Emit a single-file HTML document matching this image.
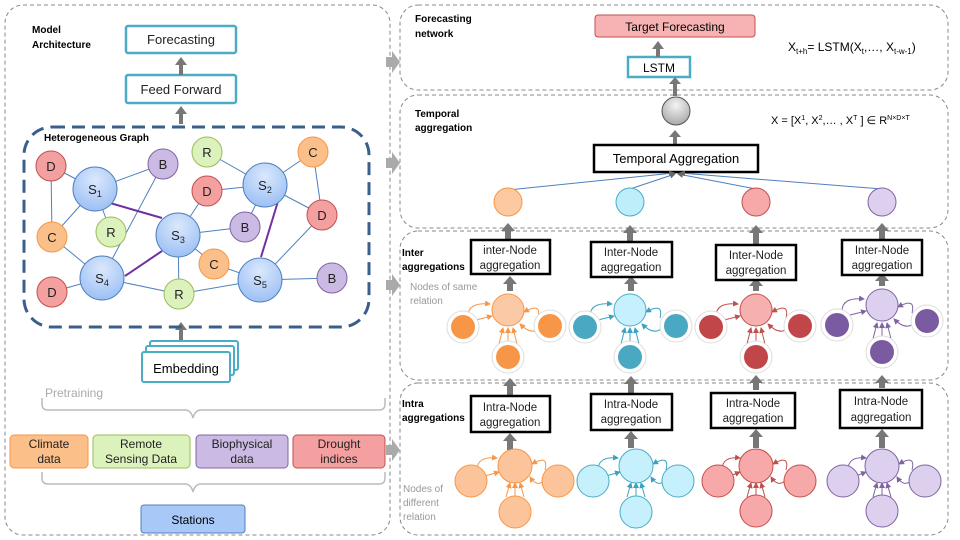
<!DOCTYPE html>
<html><head><meta charset="utf-8"><style>
body{margin:0;background:#fff}
svg{display:block;font-family:"Liberation Sans",sans-serif}
</style></head><body>
<svg width="960" height="540" viewBox="0 0 960 540" xmlns="http://www.w3.org/2000/svg">
<defs>
<marker id="ah" markerWidth="6" markerHeight="6" refX="5" refY="3" orient="auto"><path d="M0,0L6,3L0,6z" fill="#666"/></marker>
<marker id="mo" markerWidth="6" markerHeight="6" refX="5" refY="3" orient="auto"><path d="M0,0L6,3L0,6z" fill="#f79646"/></marker>
<marker id="mb" markerWidth="6" markerHeight="6" refX="5" refY="3" orient="auto"><path d="M0,0L6,3L0,6z" fill="#3ba3c0"/></marker>
<marker id="mr" markerWidth="6" markerHeight="6" refX="5" refY="3" orient="auto"><path d="M0,0L6,3L0,6z" fill="#c0504d"/></marker>
<marker id="mp" markerWidth="6" markerHeight="6" refX="5" refY="3" orient="auto"><path d="M0,0L6,3L0,6z" fill="#8064a2"/></marker>
<radialGradient id="gs" cx="50%" cy="30%" r="70%"><stop offset="0" stop-color="#dbe8fc"/><stop offset="1" stop-color="#9cc0f4"/></radialGradient>
<radialGradient id="gg" cx="50%" cy="30%" r="70%"><stop offset="0" stop-color="#f4f4f4"/><stop offset="1" stop-color="#a8a8a8"/></radialGradient>
<g id="arr"><path d="M-4,15v-12h-3l7,-7l7,7h-3v12z" fill="#777"/></g>
</defs>
<rect x="5" y="5" width="385" height="530" rx="18" fill="none" stroke="#888" stroke-dasharray="4,3"/>
<rect x="400" y="5" width="548" height="85" rx="18" fill="none" stroke="#888" stroke-dasharray="4,3"/>
<rect x="400" y="95" width="548" height="133" rx="18" fill="none" stroke="#888" stroke-dasharray="4,3"/>
<rect x="400" y="231" width="548" height="149" rx="18" fill="none" stroke="#888" stroke-dasharray="4,3"/>
<rect x="400" y="383" width="548" height="152" rx="18" fill="none" stroke="#888" stroke-dasharray="4,3"/>
<g fill="#aaa"><path d="M386,57h6v-6l8,11l-8,11v-6h-6z"/><path d="M386,158h6v-6l8,11l-8,11v-6h-6z"/><path d="M386,280h6v-6l8,11l-8,11v-6h-6z"/><path d="M386,445h6v-6l8,11l-8,11v-6h-6z"/></g>
<g font-weight="bold" font-size="10" fill="#000">
<text x="32" y="33">Model</text><text x="32" y="48">Architecture</text>
<text x="415" y="22">Forecasting</text><text x="415" y="37">network</text>
<text x="415" y="117">Temporal</text><text x="415" y="131">aggregation</text>
<text x="402" y="256">Inter</text><text x="402" y="270">aggregations</text>
<text x="402" y="407">Intra</text><text x="402" y="421">aggregations</text>
</g>
<g font-size="10" fill="#999"><text x="410" y="290">Nodes of same</text><text x="410" y="304">relation</text>
<text x="403" y="492">Nodes of</text><text x="403" y="506">different</text><text x="403" y="520">relation</text></g>
<g fill="#fff" stroke="#4bacc6" stroke-width="2.5"><rect x="126" y="26" width="110" height="27" rx="2"/><rect x="126" y="75" width="110" height="28" rx="2"/></g>
<g font-size="13" text-anchor="middle" fill="#222"><text x="181" y="44">Forecasting</text><text x="181" y="94">Feed Forward</text></g>
<g fill="#777"><path d="M179,75v-10h-4l6,-8l6,8h-4v10z"/><path d="M179,124v-10h-4l6,-8l6,8h-4v10z"/><path d="M179,340v-10h-4l6,-8l6,8h-4v10z"/></g>
<rect x="24" y="127" width="345" height="200" rx="28" fill="none" stroke="#3a5f8a" stroke-width="3" stroke-dasharray="13,7"/>
<text x="44" y="141" font-size="10" font-weight="bold">Heterogeneous Graph</text>
<g stroke="#4f81bd" stroke-width="1">
<line x1="51" y1="166" x2="95" y2="189"/><line x1="95" y1="189" x2="163" y2="164"/><line x1="51" y1="166" x2="52" y2="237"/><line x1="95" y1="189" x2="52" y2="237"/><line x1="95" y1="189" x2="111" y2="232"/>
<line x1="52" y1="237" x2="102" y2="278"/><line x1="52" y1="292" x2="102" y2="278"/><line x1="163" y1="164" x2="102" y2="278"/><line x1="102" y1="278" x2="179" y2="294"/>
<line x1="207" y1="152" x2="265" y2="185"/><line x1="313" y1="152" x2="265" y2="185"/><line x1="313" y1="152" x2="322" y2="215"/><line x1="265" y1="185" x2="322" y2="215"/><line x1="207" y1="191" x2="265" y2="185"/><line x1="245" y1="227" x2="265" y2="185"/>
<line x1="207" y1="191" x2="178" y2="235"/><line x1="178" y1="235" x2="245" y2="227"/><line x1="178" y1="235" x2="214" y2="264"/><line x1="178" y1="235" x2="179" y2="294"/><line x1="214" y1="264" x2="260" y2="280"/>
<line x1="179" y1="294" x2="260" y2="280"/><line x1="260" y1="280" x2="332" y2="278"/><line x1="260" y1="280" x2="322" y2="215"/>
</g>
<g stroke="#7030a0" stroke-width="2"><line x1="110" y1="203" x2="162" y2="218"/><line x1="125" y1="276" x2="162" y2="251"/><line x1="279" y1="198" x2="261" y2="257"/></g>
<g stroke-width="1">
<g fill="#f4a0a0" stroke="#c0504d"><circle cx="51" cy="166" r="15"/><circle cx="207" cy="191" r="15"/><circle cx="322" cy="215" r="15"/><circle cx="52" cy="292" r="15"/></g>
<g fill="#cbbbe4" stroke="#8064a2"><circle cx="163" cy="164" r="15"/><circle cx="245" cy="227" r="15"/><circle cx="332" cy="278" r="15"/></g>
<g fill="#dcf2bc" stroke="#9bbb59"><circle cx="207" cy="152" r="15"/><circle cx="111" cy="232" r="15"/><circle cx="179" cy="294" r="15"/></g>
<g fill="#fbbf8a" stroke="#f79646"><circle cx="313" cy="152" r="15"/><circle cx="52" cy="237" r="15"/><circle cx="214" cy="264" r="15"/></g>
<g fill="url(#gs)" stroke="#4f81bd"><circle cx="95" cy="189" r="22"/><circle cx="265" cy="185" r="22"/><circle cx="178" cy="235" r="22"/><circle cx="102" cy="278" r="22"/><circle cx="260" cy="280" r="22"/></g>
</g>
<g font-size="13" text-anchor="middle" fill="#222">
<text x="51" y="171">D</text><text x="207" y="196">D</text><text x="322" y="220">D</text><text x="52" y="297">D</text>
<text x="163" y="169">B</text><text x="245" y="232">B</text><text x="332" y="283">B</text>
<text x="207" y="157">R</text><text x="111" y="237">R</text><text x="179" y="299">R</text>
<text x="313" y="157">C</text><text x="52" y="242">C</text><text x="214" y="269">C</text>
<text x="95" y="194">S<tspan font-size="9" dy="3">1</tspan></text><text x="265" y="190">S<tspan font-size="9" dy="3">2</tspan></text><text x="178" y="240">S<tspan font-size="9" dy="3">3</tspan></text><text x="102" y="283">S<tspan font-size="9" dy="3">4</tspan></text><text x="260" y="285">S<tspan font-size="9" dy="3">5</tspan></text>
</g>
<g fill="#fff" stroke="#4bacc6" stroke-width="2"><rect x="150" y="341" width="88" height="29" rx="2"/><rect x="146" y="346" width="88" height="29" rx="2"/><rect x="142" y="352" width="88" height="30" rx="2"/></g>
<text x="186" y="373" font-size="13" text-anchor="middle">Embedding</text>
<text x="45" y="397" font-size="12" fill="#aaa">Pretraining</text>
<path d="M42,398v6q0,6 6,6h137q6,0 8,8q2,-8 8,-8h178q6,0 6,-6v-6" fill="none" stroke="#bbb" stroke-width="1.5"/>
<rect x="10" y="435" width="78" height="33" rx="4" fill="#fbbf8a" stroke="#f79646"/>
<rect x="93" y="435" width="97" height="33" rx="4" fill="#dcf2bc" stroke="#9bbb59"/>
<rect x="196" y="435" width="92" height="33" rx="4" fill="#cbbbe4" stroke="#8064a2"/>
<rect x="293" y="435" width="92" height="33" rx="4" fill="#f4a0a0" stroke="#c0504d"/>
<g font-size="12" text-anchor="middle" fill="#222">
<text x="49" y="448">Climate</text><text x="49" y="463">data</text>
<text x="141" y="448">Remote</text><text x="141" y="463">Sensing Data</text>
<text x="242" y="448">Biophysical</text><text x="242" y="463">data</text>
<text x="339" y="448">Drought</text><text x="339" y="463">indices</text>
</g>
<path d="M42,472v6q0,6 6,6h137q6,0 8,8q2,-8 8,-8h178q6,0 6,-6v-6" fill="none" stroke="#bbb" stroke-width="1.5"/>
<rect x="141" y="505" width="104" height="28" rx="3" fill="#a8c8f8" stroke="#4f81bd"/>
<text x="193" y="524" font-size="12" text-anchor="middle">Stations</text>
<rect x="595" y="15" width="160" height="22" rx="3" fill="#f7b3b3" stroke="#c0504d"/>
<text x="675" y="31" font-size="12" text-anchor="middle">Target Forecasting</text>
<rect x="628" y="57" width="62" height="20" fill="#fff" stroke="#4bacc6" stroke-width="2.5"/>
<text x="659" y="72" font-size="12" text-anchor="middle">LSTM</text>
<g fill="#777"><path d="M656,57v-8h-4l6,-8l6,8h-4v8z"/><path d="M673,96v-12h-4l6,-7l6,7h-4v12z"/><path d="M673,145v-8h-4l6,-7l6,7h-4v8z"/></g>
<text x="788" y="51" font-size="12">X<tspan font-size="8" dy="3">t+h</tspan><tspan dy="-3">= LSTM(X</tspan><tspan font-size="8" dy="3">t</tspan><tspan dy="-3">,…, X</tspan><tspan font-size="8" dy="3">t-w-1</tspan><tspan dy="-3">)</tspan></text>
<circle cx="676" cy="111" r="14" fill="url(#gg)" stroke="#555"/>
<text x="771" y="124" font-size="11">X = [X<tspan font-size="7" dy="-4">1</tspan><tspan dy="4">, X</tspan><tspan font-size="7" dy="-4">2</tspan><tspan dy="4">,… , X</tspan><tspan font-size="7" dy="-4">T</tspan><tspan dy="4"> ] ∈ R</tspan><tspan font-size="7" dy="-4">N×D×T</tspan></text>
<rect x="594" y="145" width="164" height="27" fill="#fff" stroke="#000" stroke-width="2.5"/>
<text x="676" y="163" font-size="13" text-anchor="middle">Temporal Aggregation</text>
<g stroke="#4f81bd" stroke-width="1" marker-end="url(#ah)"><line x1="508" y1="190" x2="674" y2="173"/><line x1="630" y1="189" x2="675" y2="174"/><line x1="756" y1="189" x2="678" y2="174"/><line x1="882" y1="189" x2="680" y2="173"/></g>
<circle cx="508" cy="202" r="14" fill="#fcc9a0" stroke="#f79646"/>
<circle cx="630" cy="202" r="14" fill="#bdeefa" stroke="#4bacc6"/>
<circle cx="756" cy="202" r="14" fill="#f7a8a8" stroke="#c0504d"/>
<circle cx="882" cy="202" r="14" fill="#ddd0ee" stroke="#8064a2"/>
<g fill="#777">
<path d="M505,240v-9h-4l7,-8l7,8h-4v9z"/><path d="M627,242v-9h-4l7,-8l7,8h-4v9z"/><path d="M753,245v-12h-4l7,-8l7,8h-4v12z"/><path d="M879,240v-9h-4l7,-8l7,8h-4v9z"/>
<path d="M507,291v-7h-4l7,-8l7,8h-4v7z"/><path d="M628,291v-7h-4l7,-8l7,8h-4v7z"/><path d="M753,291v-5h-4l7,-8l7,8h-4v5z"/><path d="M879,286v-5h-4l7,-8l7,8h-4v5z"/>
<path d="M507,395v-9h-4l7,-8l7,8h-4v9z"/><path d="M628,393v-9h-4l7,-8l7,8h-4v9z"/><path d="M753,390v-7h-4l7,-8l7,8h-4v7z"/><path d="M879,388v-5h-4l7,-8l7,8h-4v5z"/>
<path d="M507,450v-9h-4l7,-8l7,8h-4v9z"/><path d="M628,448v-9h-4l7,-8l7,8h-4v9z"/><path d="M753,448v-11h-4l7,-8l7,8h-4v11z"/><path d="M879,448v-11h-4l7,-8l7,8h-4v11z"/>
</g>
<g fill="#fff" stroke="#000" stroke-width="2.5">
<rect x="471" y="240" width="79" height="34"/><rect x="591" y="242" width="81" height="35"/><rect x="716" y="245" width="80" height="35"/><rect x="842" y="240" width="80" height="35"/>
<rect x="471" y="396" width="79" height="36"/><rect x="591" y="394" width="81" height="36"/><rect x="711" y="393" width="84" height="35"/><rect x="840" y="390" width="82" height="38"/>
</g>
<g font-size="11.5" text-anchor="middle" fill="#222">
<text x="510" y="254">inter-Node</text><text x="510" y="269">aggregation</text>
<text x="631" y="256">Inter-Node</text><text x="631" y="271">aggregation</text>
<text x="756" y="259">Inter-Node</text><text x="756" y="274">aggregation</text>
<text x="882" y="254">Inter-Node</text><text x="882" y="269">aggregation</text>
<text x="510" y="411">Intra-Node</text><text x="510" y="426">aggregation</text>
<text x="631" y="408">Intra-Node</text><text x="631" y="423">aggregation</text>
<text x="753" y="407">Intra-Node</text><text x="753" y="422">aggregation</text>
<text x="881" y="405">Intra-Node</text><text x="881" y="421">aggregation</text>
</g>
<!-- inter clusters: center node at origin -->
<g transform="translate(508,310)">
<g fill="none" stroke="#f79646" marker-end="url(#mo)"><path d="M-40,6q0,-14 22,-12"/><path d="M-32,10l16,-4"/><path d="M0,34v-16"/><path d="M-9,34l4,-16"/><path d="M9,34l-4,-16"/><path d="M30,8q4,-16 -14,-6"/><path d="M32,18q-8,8 -20,-4"/></g>
<circle cx="-45" cy="17" r="16" fill="#fff" stroke="#ddd"/><circle cx="42" cy="16" r="16" fill="#fff" stroke="#ddd"/><circle cx="0" cy="47" r="16" fill="#fff" stroke="#ddd"/>
<g fill="#f79646"><circle cx="-45" cy="17" r="12"/><circle cx="42" cy="16" r="12"/><circle cx="0" cy="47" r="12"/></g>
<circle r="16" fill="#fcc9a6" stroke="#f79646"/></g>
<g transform="translate(630,310)">
<g fill="none" stroke="#3ba3c0" marker-end="url(#mb)"><path d="M-40,6q0,-14 22,-12"/><path d="M-32,10l16,-4"/><path d="M0,34v-16"/><path d="M-9,34l4,-16"/><path d="M9,34l-4,-16"/><path d="M30,8q4,-16 -14,-6"/><path d="M32,18q-8,8 -20,-4"/></g>
<circle cx="-45" cy="17" r="16" fill="#fff" stroke="#ddd"/><circle cx="46" cy="16" r="16" fill="#fff" stroke="#ddd"/><circle cx="0" cy="47" r="16" fill="#fff" stroke="#ddd"/>
<g fill="#4ba8c2"><circle cx="-45" cy="17" r="12"/><circle cx="46" cy="16" r="12"/><circle cx="0" cy="47" r="12"/></g>
<circle r="16" fill="#c6f0fb" stroke="#4bacc6"/></g>
<g transform="translate(756,310)">
<g fill="none" stroke="#c0504d" marker-end="url(#mr)"><path d="M-40,6q0,-14 22,-12"/><path d="M-32,10l16,-4"/><path d="M0,34v-16"/><path d="M-9,34l4,-16"/><path d="M9,34l-4,-16"/><path d="M30,8q4,-16 -14,-6"/><path d="M32,18q-8,8 -20,-4"/></g>
<circle cx="-45" cy="17" r="16" fill="#fff" stroke="#ddd"/><circle cx="44" cy="16" r="16" fill="#fff" stroke="#ddd"/><circle cx="0" cy="47" r="16" fill="#fff" stroke="#ddd"/>
<g fill="#c0464a"><circle cx="-45" cy="17" r="12"/><circle cx="44" cy="16" r="12"/><circle cx="0" cy="47" r="12"/></g>
<circle r="16" fill="#f7b0b0" stroke="#c0504d"/></g>
<g transform="translate(882,305)">
<g fill="none" stroke="#8064a2" marker-end="url(#mp)"><path d="M-40,6q0,-14 22,-12"/><path d="M-32,10l16,-4"/><path d="M0,34v-16"/><path d="M-9,34l4,-16"/><path d="M9,34l-4,-16"/><path d="M30,8q4,-16 -14,-6"/><path d="M32,18q-8,8 -20,-4"/></g>
<circle cx="-45" cy="20" r="16" fill="#fff" stroke="#ddd"/><circle cx="45" cy="16" r="16" fill="#fff" stroke="#ddd"/><circle cx="0" cy="47" r="16" fill="#fff" stroke="#ddd"/>
<g fill="#7a5aa0"><circle cx="-45" cy="20" r="12"/><circle cx="45" cy="16" r="12"/><circle cx="0" cy="47" r="12"/></g>
<circle r="16" fill="#ddd0ee" stroke="#8064a2"/></g>
<!-- intra clusters -->
<g transform="translate(515,466)">
<g fill="none" stroke="#f79646" marker-end="url(#mo)"><path d="M-38,4q0,-14 20,-12"/><path d="M-30,10l14,-4"/><path d="M0,31v-14"/><path d="M-9,31l4,-14"/><path d="M9,31l-4,-14"/><path d="M30,4q4,-16 -13,-6"/><path d="M30,14q-8,8 -15,-3"/></g>
<g fill="#fcc49a" stroke="#f79646"><circle cx="-44" cy="15" r="16"/><circle cx="43" cy="15" r="16"/><circle cx="0" cy="46" r="16"/><circle r="17"/></g></g>
<g transform="translate(636,466)">
<g fill="none" stroke="#3ba3c0" marker-end="url(#mb)"><path d="M-38,4q0,-14 20,-12"/><path d="M-30,10l14,-4"/><path d="M0,31v-14"/><path d="M-9,31l4,-14"/><path d="M9,31l-4,-14"/><path d="M30,4q4,-16 -13,-6"/><path d="M30,14q-8,8 -15,-3"/></g>
<g fill="#c6f0fb" stroke="#4bacc6"><circle cx="-43" cy="15" r="16"/><circle cx="42" cy="15" r="16"/><circle cx="0" cy="46" r="16"/><circle r="17"/></g></g>
<g transform="translate(756,466)">
<g fill="none" stroke="#c0504d" marker-end="url(#mr)"><path d="M-34,4q0,-14 18,-12"/><path d="M-26,10l10,-4"/><path d="M0,31v-14"/><path d="M-9,31l4,-14"/><path d="M9,31l-4,-14"/><path d="M30,4q4,-16 -13,-6"/><path d="M30,14q-8,8 -15,-3"/></g>
<g fill="#f7a8a8" stroke="#c0504d"><circle cx="-38" cy="15" r="16"/><circle cx="44" cy="15" r="16"/><circle cx="0" cy="45" r="16"/><circle r="17"/></g></g>
<g transform="translate(882,466)">
<g fill="none" stroke="#8064a2" marker-end="url(#mp)"><path d="M-34,4q0,-14 18,-12"/><path d="M-26,10l10,-4"/><path d="M0,31v-14"/><path d="M-9,31l4,-14"/><path d="M9,31l-4,-14"/><path d="M30,4q4,-16 -13,-6"/><path d="M30,14q-8,8 -15,-3"/></g>
<g fill="#ddd0ee" stroke="#8064a2"><circle cx="-39" cy="15" r="16"/><circle cx="43" cy="15" r="16"/><circle cx="0" cy="45" r="16"/><circle r="17"/></g></g>
</svg>
</body></html>
